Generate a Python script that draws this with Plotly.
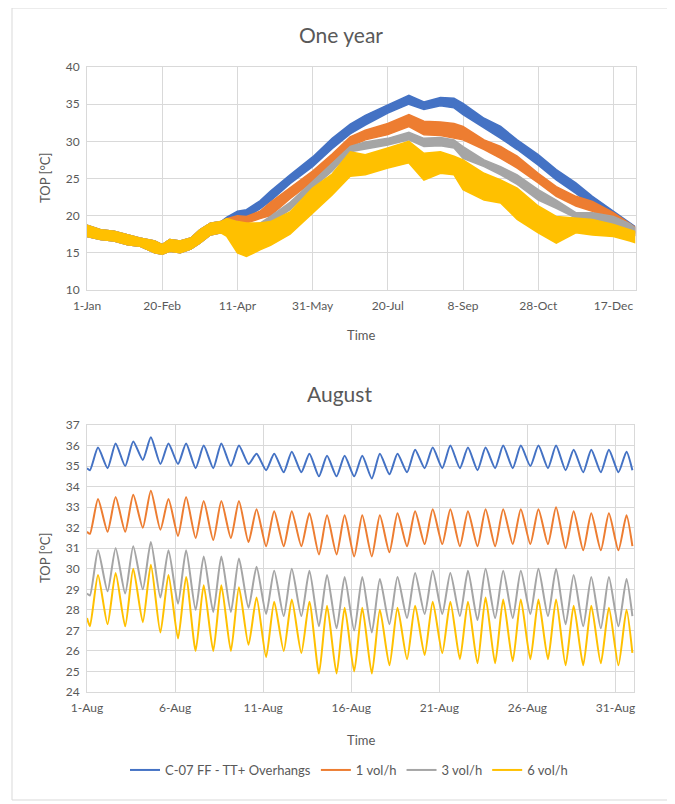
import plotly.graph_objects as go

# ---------------- data: one year (envelope of hourly TOP, read every few days) ----------------
year_days = [0, 9, 18, 27, 35, 45, 50, 55, 62, 69, 75, 82, 89, 93, 100, 106, 115, 122, 135, 150,
             163, 175, 185, 200, 214, 224, 235, 244, 250, 264, 275, 286, 300, 312, 325, 336, 350, 361, 364]
year_ticks = [0, 50, 100, 150, 200, 250, 300, 350]
year_ticklabels = ["1-Jan", "20-Feb", "11-Apr", "31-May", "20-Jul", "8-Sep", "28-Oct", "17-Dec"]

winter_top = [18.7, 18.1, 17.9, 17.4, 17.0, 16.6, 16.1, 16.8, 16.6, 17.0, 18.1, 19.0, 19.2]
winter_bot = [17.2, 16.8, 16.6, 16.1, 15.9, 15.0, 14.8, 15.2, 15.0, 15.5, 16.3, 17.4, 17.7]

blue_top = winter_top + [19.8, 20.6, 20.8, 22.0, 23.3, 25.5, 27.9, 30.4, 32.3, 33.5, 34.9, 36.2, 35.3,
                         35.9, 35.8, 35.1, 33.1, 32.0, 30.2, 28.2, 26.2, 24.4, 22.6, 20.6, 19.0, 18.6]
blue_bot = winter_bot + [18.5, 19.6, 19.8, 20.9, 22.0, 24.3, 26.6, 29.0, 31.0, 32.2, 33.8, 35.0, 34.3,
                         34.8, 34.5, 33.6, 31.8, 30.4, 28.9, 26.8, 24.8, 23.0, 21.3, 19.5, 18.1, 17.6]
orange_top = winter_top + [19.6, 20.0, 19.9, 20.6, 21.8, 23.8, 26.0, 28.3, 30.6, 31.5, 32.4, 33.6, 32.7,
                           32.6, 32.4, 32.0, 30.2, 29.3, 28.0, 25.7, 23.9, 22.6, 21.9, 20.4, 19.0, 18.5]
orange_bot = winter_bot + [18.3, 19.0, 19.0, 19.6, 20.0, 22.3, 24.6, 27.0, 29.3, 30.2, 30.9, 32.0, 30.9,
                           30.8, 30.4, 30.2, 28.9, 27.7, 26.4, 24.4, 22.6, 21.3, 20.6, 19.0, 17.7, 17.4]
gray_top = winter_top + [19.2, 19.2, 18.8, 19.0, 19.9, 21.8, 24.6, 27.0, 29.3, 29.9, 30.4, 31.2, 30.4,
                         30.5, 30.2, 29.3, 27.5, 26.6, 25.5, 23.5, 22.1, 20.4, 20.4, 19.9, 18.9, 18.4]
gray_bot = winter_bot + [18.0, 18.3, 18.1, 18.3, 19.0, 20.8, 23.7, 26.0, 28.6, 28.9, 29.5, 30.2, 29.3,
                         29.4, 29.1, 27.7, 26.6, 25.5, 24.2, 22.1, 21.0, 19.7, 19.5, 18.8, 17.8, 17.3]
yellow_top = winter_top + [19.6, 19.2, 19.0, 19.0, 19.2, 20.5, 23.7, 25.6, 28.6, 28.2, 29.1, 30.0, 28.4,
                           28.6, 28.0, 27.5, 25.7, 24.8, 23.7, 21.3, 19.9, 19.7, 19.5, 18.8, 18.1, 17.9]
yellow_bot = winter_bot + [17.2, 15.0, 14.5, 15.4, 16.0, 17.5, 20.4, 22.8, 25.3, 25.5, 26.4, 27.1, 24.8,
                           25.7, 25.5, 23.5, 22.1, 21.7, 19.5, 17.7, 16.3, 17.7, 17.4, 17.2, 16.6, 16.4]

# ---------------- data: August (daily trough ~04h and peak ~15h) ----------------
aug_ticks = [0, 5, 10, 15, 20, 25, 30]
aug_ticklabels = ["1-Aug", "6-Aug", "11-Aug", "16-Aug", "21-Aug", "26-Aug", "31-Aug"]

blue_start, blue_end = 34.9, 34.8
blue_peak = [35.9, 36.1, 36.2, 36.4, 36.1, 36.1, 36.0, 36.1, 36.0, 35.6, 35.6, 35.7, 35.6, 35.5, 35.5, 35.5,
             35.6, 35.6, 35.8, 35.9, 36.0, 35.9, 35.9, 36.0, 36.0, 36.0, 36.0, 35.8, 35.8, 35.8, 35.7]
blue_trough = [34.8, 34.9, 35.0, 35.3, 35.1, 35.1, 34.9, 34.9, 35.0, 35.1, 34.8, 34.7, 34.7, 34.5, 34.5, 34.5,
               34.4, 34.6, 34.7, 34.9, 34.9, 34.9, 34.8, 34.9, 34.9, 35.0, 34.9, 34.8, 34.7, 34.7, 34.7]
orange_start, orange_end = 31.8, 31.1
orange_peak = [33.4, 33.5, 33.6, 33.8, 33.4, 33.5, 33.3, 33.3, 33.3, 32.9, 32.8, 32.8, 32.7, 32.6, 32.6, 32.6,
               32.6, 32.7, 32.8, 32.9, 32.9, 32.8, 32.9, 32.9, 32.9, 32.9, 33.0, 32.8, 32.7, 32.7, 32.6]
orange_trough = [31.7, 31.8, 31.8, 32.0, 31.9, 31.6, 31.5, 31.4, 31.5, 31.3, 31.1, 31.1, 31.1, 30.7, 30.7, 30.6,
                 30.6, 30.8, 31.1, 31.2, 31.2, 31.1, 31.1, 31.1, 31.2, 31.2, 31.2, 31.0, 30.9, 30.9, 30.9]
gray_start, gray_end = 28.8, 27.7
gray_peak = [30.9, 31.0, 31.1, 31.3, 30.9, 30.9, 30.6, 30.6, 30.5, 30.1, 29.9, 30.0, 29.9, 29.7, 29.6, 29.6,
             29.5, 29.6, 29.8, 29.9, 29.8, 29.9, 30.0, 29.9, 29.9, 30.0, 30.0, 29.7, 29.6, 29.6, 29.5]
gray_trough = [28.7, 28.9, 28.8, 29.0, 28.6, 28.3, 28.0, 27.9, 27.9, 28.1, 27.8, 27.7, 27.7, 27.2, 27.1, 27.0,
               26.9, 27.3, 27.6, 27.8, 27.8, 27.7, 27.5, 27.6, 27.6, 27.8, 27.7, 27.3, 27.2, 27.1, 27.2]
yellow_start, yellow_end = 27.6, 25.9
yellow_peak = [29.7, 29.8, 30.0, 30.2, 29.7, 29.6, 29.2, 29.2, 29.1, 28.6, 28.4, 28.5, 28.4, 28.2, 28.1, 28.1,
               28.0, 28.1, 28.2, 28.4, 28.4, 28.4, 28.6, 28.5, 28.5, 28.5, 28.5, 28.2, 28.2, 28.1, 28.0]
yellow_trough = [27.2, 27.3, 27.2, 27.4, 26.9, 26.6, 26.0, 26.0, 26.0, 26.3, 25.7, 26.0, 25.9, 24.9, 24.9, 25.0,
                 24.9, 25.3, 25.6, 25.8, 25.9, 25.6, 25.4, 25.4, 25.5, 25.6, 25.6, 25.3, 25.3, 25.4, 25.3]

series_names = ["C-07 FF - TT+ Overhangs", "1 vol/h", "3 vol/h", "6 vol/h"]
colors = ["#4472C4", "#ED7D31", "#A5A5A5", "#FFC000"]

# page body has an 8px margin; size the figure so it fits in the 675x804 window
OFF = 8
W, H = 675 - OFF, 804 - OFF
TXT = "#595959"
GRID = "#D9D9D9"
FONT = "Lato, 'Open Sans', sans-serif"


def px(x):
    return (x - OFF) / W


def py(y):
    return 1 - (y - OFF) / H


fig = go.Figure()

# one-year bands
year_sets = [(blue_top, blue_bot), (orange_top, orange_bot), (gray_top, gray_bot), (yellow_top, yellow_bot)]
for (top, bot), name, col in zip(year_sets, series_names, colors):
    xs = year_days + year_days[::-1]
    ys = top + bot[::-1]
    fig.add_trace(go.Scatter(x=xs, y=ys, mode="lines", fill="toself", fillcolor=col,
                             line=dict(color=col, width=1.5), name=name, showlegend=False,
                             xaxis="x", yaxis="y", hoverinfo="skip"))

# August lines
aug_sets = [(blue_start, blue_trough, blue_peak, blue_end),
            (orange_start, orange_trough, orange_peak, orange_end),
            (gray_start, gray_trough, gray_peak, gray_end),
            (yellow_start, yellow_trough, yellow_peak, yellow_end)]
for (s, tr, pk, e), name, col in zip(aug_sets, series_names, colors):
    xs, ys = [0.0], [s]
    for d in range(len(pk)):
        xs += [d + 4 / 24, d + 15 / 24]
        ys += [tr[d], pk[d]]
    xs.append(len(pk) - 1 + 23 / 24)
    ys.append(e)
    fig.add_trace(go.Scatter(x=xs, y=ys, mode="lines", line=dict(color=col, width=2, shape="spline",
                                                                   smoothing=0.6),
                             name=name, xaxis="x2", yaxis="y2"))

axis_common = dict(showgrid=True, gridcolor=GRID, gridwidth=1, showline=True, linecolor=GRID,
                   mirror=True, zeroline=False, ticks="", automargin=False,
                   tickfont=dict(size=12, color=TXT, family=FONT))

fig.update_layout(
    template="none",
    width=W, height=H, margin=dict(l=0, r=0, t=0, b=0, pad=0, autoexpand=False),
    paper_bgcolor="white", plot_bgcolor="white",
    font=dict(family=FONT, color=TXT),
    xaxis=dict(domain=[px(87), px(636)], range=[0, 365], tickmode="array", tickvals=year_ticks,
               ticktext=year_ticklabels, anchor="y", ticklabelstandoff=5, **axis_common),
    yaxis=dict(domain=[py(290), py(67)], range=[10, 40], dtick=5, anchor="x", ticklabelstandoff=4,
               **axis_common),
    xaxis2=dict(domain=[px(87), px(634)], range=[0, 31.05], tickmode="array", tickvals=aug_ticks,
                ticktext=aug_ticklabels, anchor="y2", ticklabelstandoff=5, **axis_common),
    yaxis2=dict(domain=[py(692), py(425)], range=[24, 37], dtick=1, anchor="x2", ticklabelstandoff=4,
                **axis_common),
    legend=dict(orientation="h", x=px(349), xanchor="center", y=py(770), yanchor="middle",
                font=dict(size=13, color=TXT, family=FONT), tracegroupgap=0, bgcolor="rgba(0,0,0,0)"),
    showlegend=True,
)

ann = [
    dict(text="One year", x=px(341), y=py(35), size=21),
    dict(text="August", x=px(339), y=py(393), size=21),
    dict(text="Time", x=px(361), y=py(335), size=13),
    dict(text="Time", x=px(361), y=py(740), size=13),
]
for a in ann:
    fig.add_annotation(text=a["text"], x=a["x"], y=a["y"], xref="paper", yref="paper",
                       showarrow=False, xanchor="center", yanchor="middle",
                       font=dict(size=a["size"], color=TXT, family=FONT))
for yc in [178, 558]:
    fig.add_annotation(text="TOP [°C]", x=px(45), y=py(yc), xref="paper", yref="paper", textangle=-90,
                       showarrow=False, xanchor="center", yanchor="middle",
                       font=dict(size=13, color=TXT, family=FONT))

fig.add_shape(type="rect", xref="paper", yref="paper", x0=px(12), x1=px(668), y0=py(800), y1=py(8),
              line=dict(color=GRID, width=1), fillcolor="rgba(0,0,0,0)", layer="below")

fig.write_html("out.html")
